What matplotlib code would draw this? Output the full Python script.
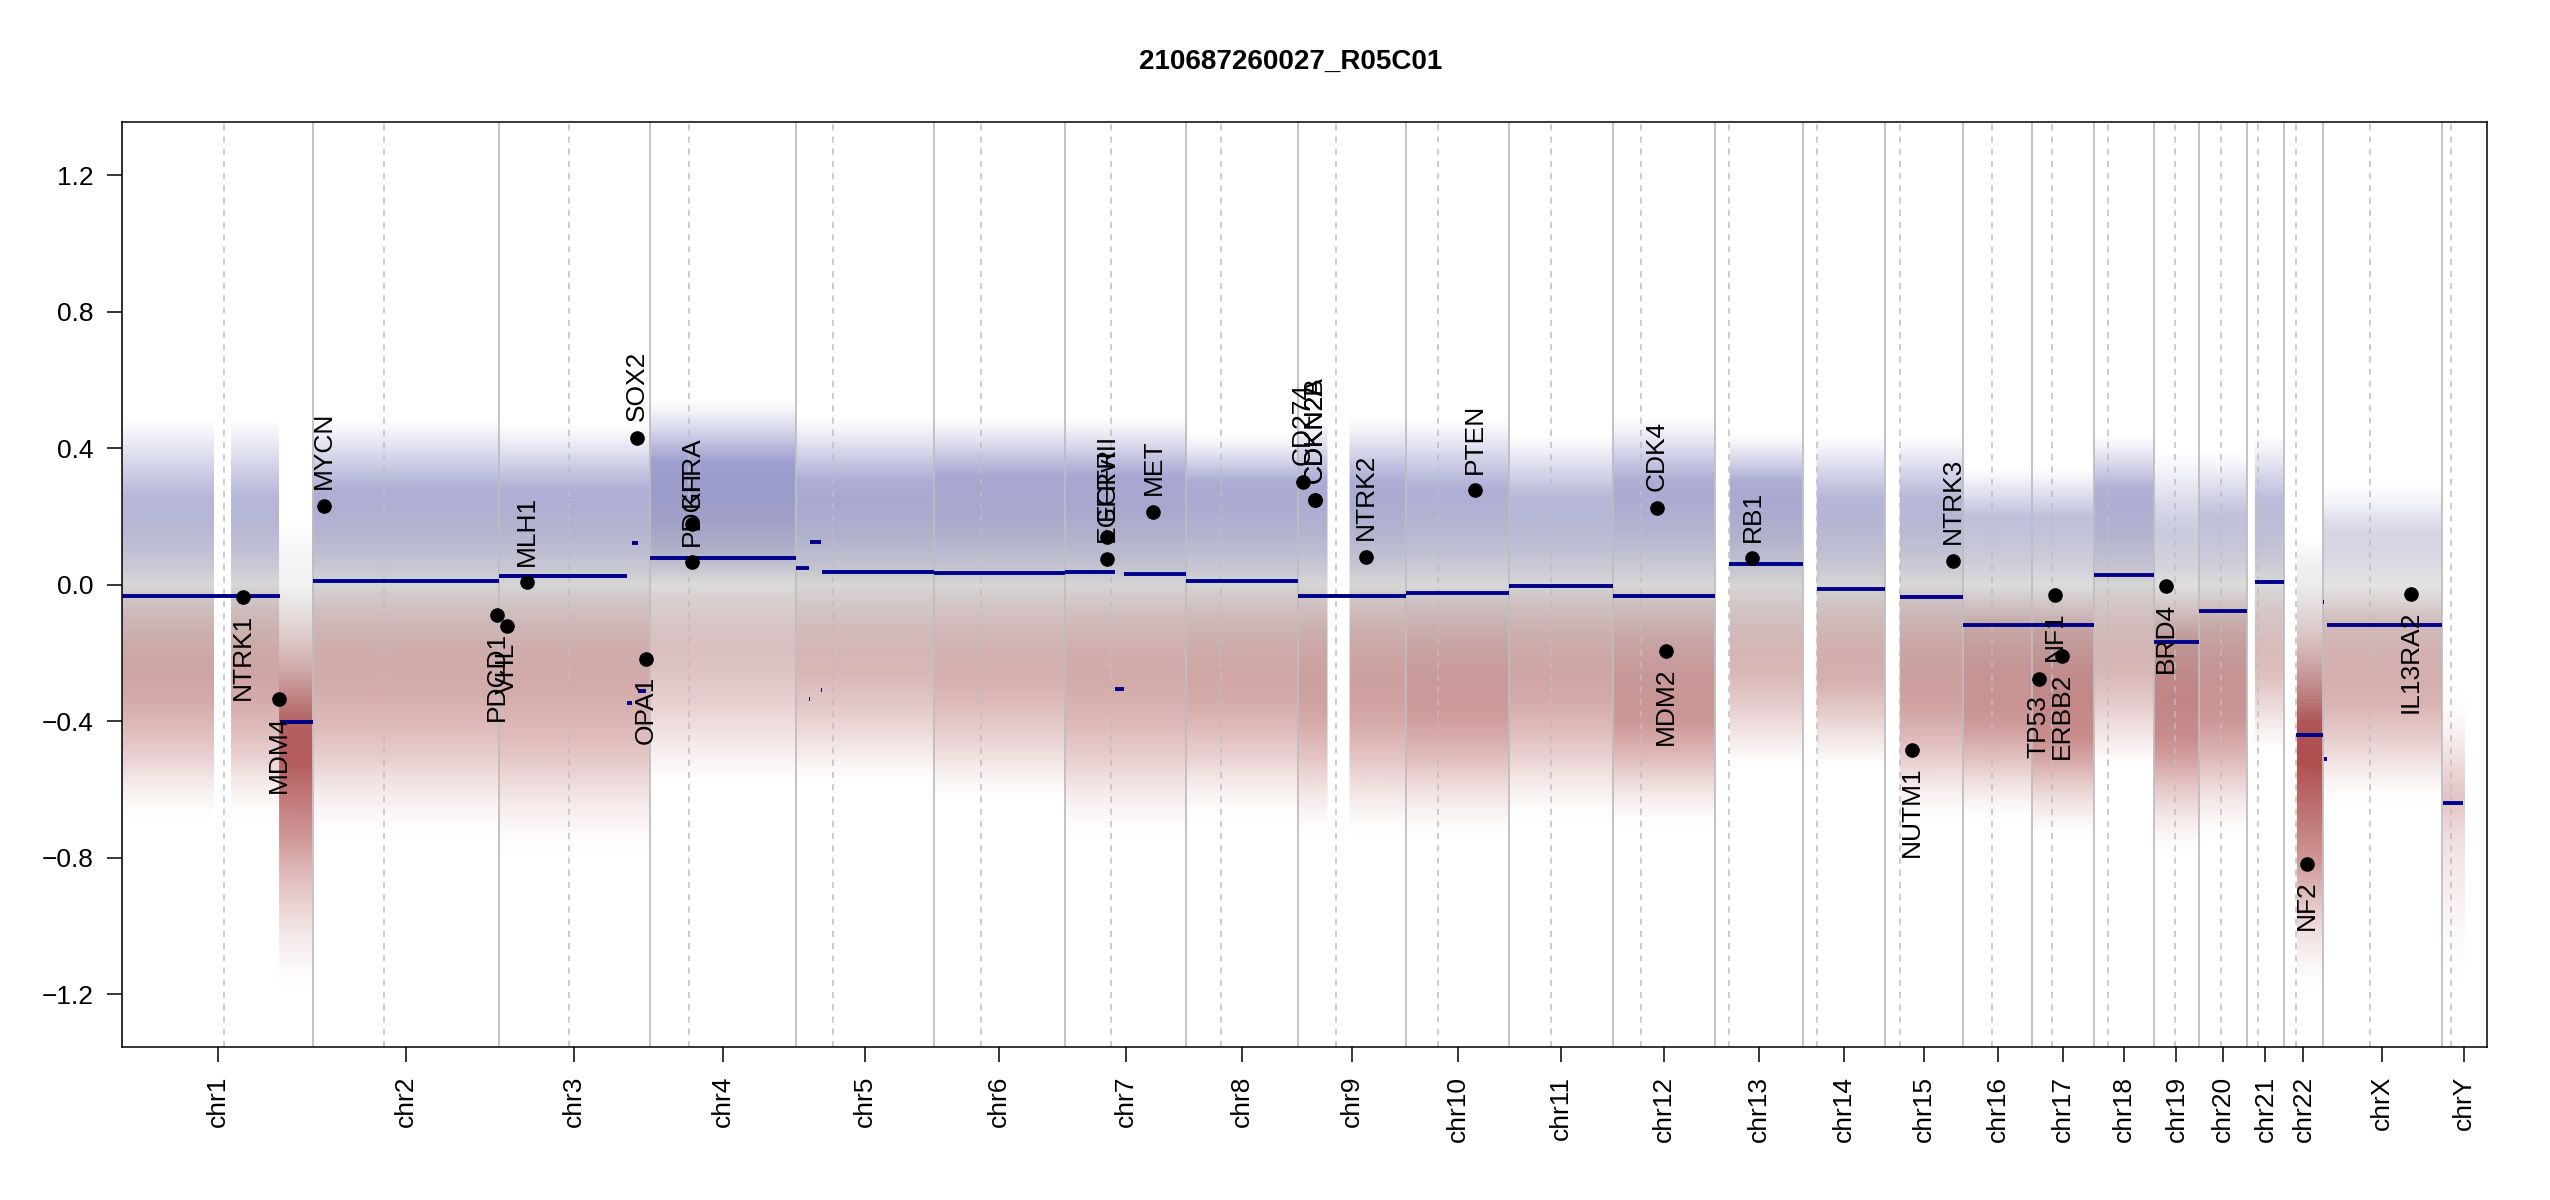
import numpy as np
import matplotlib
matplotlib.use("Agg")
import matplotlib.pyplot as plt
from matplotlib.colors import LinearSegmentedColormap, Normalize

plt.rcParams['font.family'] = ['Liberation Sans', 'DejaVu Sans']

# chromosomes (hg19, Mb) and centromere marks
chrom_names = ['chr1', 'chr2', 'chr3', 'chr4', 'chr5', 'chr6', 'chr7', 'chr8', 'chr9', 'chr10',
               'chr11', 'chr12', 'chr13', 'chr14', 'chr15', 'chr16', 'chr17', 'chr18', 'chr19',
               'chr20', 'chr21', 'chr22', 'chrX', 'chrY']
chrom_len = [249.25, 243.20, 198.02, 191.15, 180.92, 171.12, 159.14, 146.36, 141.21, 135.53,
             135.01, 133.85, 115.17, 107.35, 102.53, 90.35, 81.20, 78.08, 59.13,
             63.03, 48.13, 51.30, 155.27, 59.37]
centromere = [133.5, 93.0, 92.5, 51.3, 48.6, 61.5, 60.5, 46.0, 49.8, 41.5,
              54.2, 37.7, 18.9, 18.9, 19.7, 38.0, 26.0, 17.8, 27.2,
              29.3, 13.7, 15.9, 61.2, 12.2]

# segments
seg_chrom = ['chr1', 'chr1', 'chr2', 'chr3', 'chr3', 'chr3', 'chr3', 'chr4',
             'chr5', 'chr5', 'chr5', 'chr5', 'chr5', 'chr6', 'chr7', 'chr7', 'chr7',
             'chr8', 'chr9', 'chr10', 'chr11', 'chr12', 'chr13', 'chr14', 'chr15',
             'chr16', 'chr17', 'chr18', 'chr19', 'chr20', 'chr21', 'chr22',
             'chrX', 'chrX', 'chrX', 'chrY']
seg_start = [0, 206.0, 0, 0, 168.5, 175.0, 182.5, 0,
             0, 17.2, 18.2, 32.9, 33.9, 0, 0, 65.5, 77.0,
             0, 0, 0, 0, 0, 19.0, 19.0, 20.0,
             0, 0, 0, 0, 0, 10.0, 16.5,
             0, 1.5, 5.0, 2.0]
seg_end = [206.0, 249.25, 243.20, 168.5, 175.0, 182.5, 192.5, 191.15,
           17.2, 18.2, 32.9, 33.9, 180.92, 171.12, 65.5, 77.0, 159.14,
           146.36, 141.21, 135.53, 135.01, 133.85, 115.17, 107.35, 102.53,
           90.35, 81.20, 78.08, 59.13, 63.03, 48.13, 51.30,
           1.5, 5.0, 155.27, 28.5]
seg_mean = [-0.032, -0.403, 0.010, 0.026, -0.348, 0.122, -0.312, 0.078,
            0.049, -0.335, 0.125, -0.309, 0.037, 0.034, 0.037, -0.305, 0.032,
            0.011, -0.032, -0.025, -0.004, -0.032, 0.061, -0.012, -0.036,
            -0.117, -0.117, 0.029, -0.167, -0.076, 0.008, -0.441,
            -0.050, -0.511, -0.117, -0.639]

# detail genes
gene_names = ['NTRK1', 'MDM4', 'MYCN', 'PDCD1', 'VHL', 'MLH1', 'SOX2', 'OPA1', 'PDGFRA', 'KIT',
              'EGFR', 'EGFRvIII', 'MET', 'CD274', 'CDKN2A', 'CDKN2B', 'NTRK2', 'PTEN', 'CDK4',
              'MDM2', 'RB1', 'NUTM1', 'NTRK3', 'TP53', 'NF1', 'ERBB2', 'BRD4', 'NF2', 'IL13RA2']
gene_chrom = ['chr1', 'chr1', 'chr2', 'chr2', 'chr3', 'chr3', 'chr3', 'chr3', 'chr4', 'chr4',
              'chr7', 'chr7', 'chr7', 'chr9', 'chr9', 'chr9', 'chr9', 'chr10', 'chr12',
              'chr12', 'chr13', 'chr15', 'chr15', 'chr17', 'chr17', 'chr17', 'chr19', 'chr22', 'chrX']
gene_pos = [157.5, 204.5, 15.0, 241.5, 10.5, 37.0, 181.5, 193.3, 55.1, 55.5,
            55.6, 55.6, 116.2, 6.0, 21.97, 22.0, 88.5, 90.5, 58.2,
            69.3, 49.3, 35.0, 89.0, 8.5, 30.3, 38.6, 16.0, 30.5, 114.5]
gene_value = [-0.035, -0.334, 0.231, -0.089, -0.121, 0.007, 0.430, -0.217, 0.066, 0.178,
              0.141, 0.075, 0.213, 0.302, 0.248, 0.248, 0.081, 0.277, 0.226,
              -0.194, 0.077, -0.485, 0.070, -0.275, -0.029, -0.208, -0.003, -0.818, -0.028]

# bin cloud, read per region: dense band and outer reach of the bins
cloud_chrom = ['chr1', 'chr1', 'chr1', 'chr2', 'chr3', 'chr4', 'chr5', 'chr6', 'chr7', 'chr8',
               'chr9', 'chr9', 'chr10', 'chr11', 'chr12', 'chr13', 'chr14', 'chr15', 'chr16',
               'chr17', 'chr18', 'chr19', 'chr20', 'chr21', 'chr22', 'chrX', 'chrY']
cloud_start = [0, 143.0, 206.0, 0, 0, 0, 0, 0, 0, 0,
               0, 68.0, 0, 0, 0, 19.0, 19.0, 20.0, 0,
               0, 0, 0, 0, 10.0, 16.5, 0, 2.0]
cloud_end = [121.0, 206.0, 249.25, 243.20, 198.02, 191.15, 180.92, 171.12, 159.14, 146.36,
             39.0, 141.21, 135.53, 135.01, 133.85, 115.17, 107.35, 102.53, 90.35,
             81.20, 78.08, 59.13, 63.03, 48.13, 51.30, 155.27, 30.0]
cloud_hi = [0.25, 0.25, -0.05, 0.28, 0.28, 0.36, 0.30, 0.32, 0.32, 0.30,
            0.30, 0.30, 0.28, 0.25, 0.30, 0.30, 0.25, 0.25, 0.20,
            0.20, 0.28, 0.15, 0.20, 0.25, 0.00, 0.15, -0.50]
cloud_lo = [-0.32, -0.32, -0.75, -0.30, -0.30, -0.20, -0.25, -0.28, -0.30, -0.32,
            -0.35, -0.35, -0.38, -0.32, -0.40, -0.25, -0.28, -0.35, -0.40,
            -0.45, -0.25, -0.45, -0.40, -0.25, -0.80, -0.35, -0.75]
cloud_top = [0.50, 0.50, 0.20, 0.50, 0.48, 0.55, 0.50, 0.50, 0.50, 0.45,
             0.50, 0.50, 0.50, 0.45, 0.50, 0.45, 0.45, 0.45, 0.35,
             0.35, 0.45, 0.40, 0.40, 0.45, 0.15, 0.30, -0.30]
cloud_bottom = [-0.70, -0.70, -1.20, -0.75, -0.80, -0.60, -0.60, -0.65, -0.75, -0.70,
                -0.75, -0.75, -0.75, -0.70, -0.72, -0.55, -0.55, -0.70, -0.70,
                -0.75, -0.55, -0.80, -0.75, -0.50, -1.20, -0.65, -1.20]
cloud_density = [1.0, 1.0, 0.8, 1.0, 1.0, 1.0, 1.0, 1.0, 1.0, 1.0,
                 1.0, 1.0, 1.0, 1.0, 1.0, 1.0, 1.0, 1.0, 1.0,
                 1.0, 1.0, 1.0, 1.0, 0.9, 0.85, 0.8, 0.25]

offset = dict(zip(chrom_names, np.concatenate([[0], np.cumsum(chrom_len)[:-1]])))
total = sum(chrom_len)
ylim = (-1.355, 1.355)

fig = plt.figure(figsize=(25.5, 12), dpi=100)
ax = fig.add_subplot(111)
fig.subplots_adjust(left=0.048, right=0.9753, bottom=0.1275, top=0.898)

# cloud as an image, coloured by value, faded by how dense the bins are
cmap = LinearSegmentedColormap.from_list('cnv', ['darkred', 'lightgrey', 'darkblue'])
norm = Normalize(-0.52, 0.52, clip=True)
W, H = 2364, 926
xc = (np.arange(W) + 0.5) / W * total
yc = ylim[0] + (np.arange(H) + 0.5) / H * (ylim[1] - ylim[0])
rgba = np.tile(cmap(norm(yc))[:, None, :], (1, W, 1))
alpha = np.zeros((H, W))
for ch, s, e, hi, lo, top, bot, d in zip(cloud_chrom, cloud_start, cloud_end, cloud_hi,
                                         cloud_lo, cloud_top, cloud_bottom, cloud_density):
    mid = (hi + lo) / 2
    half = (hi - lo) / 2
    prof = np.zeros(H)
    core = (yc >= lo) & (yc <= hi)
    prof[core] = 0.95 - 0.45 * np.abs(yc[core] - mid) / half
    up = (yc > hi) & (yc < top)
    prof[up] = 0.5 * (1 - (yc[up] - hi) / (top - hi)) ** 1.5
    dn = (yc < lo) & (yc > bot)
    prof[dn] = 0.5 * (1 - (lo - yc[dn]) / (lo - bot)) ** 1.5
    cols = (xc >= offset[ch] + s) & (xc < offset[ch] + e)
    alpha[:, cols] = (prof * d)[:, None]
rgba[..., 3] = alpha
ax.imshow(rgba, extent=[0, total, ylim[0], ylim[1]], origin='lower', aspect='auto',
          interpolation='bilinear', zorder=1)

# chromosome borders and centromeres
for ch, cen in zip(chrom_names, centromere):
    ax.axvline(offset[ch], color='#bebebe', lw=1.3, zorder=2)
    ax.axvline(offset[ch] + cen, color='#bebebe', lw=1.1, ls=(0, (4, 4)), zorder=2)

# segments
for ch, s, e, m in zip(seg_chrom, seg_start, seg_end, seg_mean):
    ax.plot([offset[ch] + s, offset[ch] + e], [m, m], color='darkblue', lw=2.8,
            solid_capstyle='butt', zorder=3)

# genes
for name, ch, p, v in zip(gene_names, gene_chrom, gene_pos, gene_value):
    x = offset[ch] + p
    ax.plot(x, v, 'o', color='black', ms=9.5, zorder=4)
    ax.annotate(name, (x, v), xytext=(0, 12 if v > 0 else -12), textcoords='offset points',
                rotation=90, ha='center', va='bottom' if v > 0 else 'top', fontsize=19, zorder=5)

ax.set_xlim(0, total)
ax.set_ylim(*ylim)
ax.set_xticks([offset[c] + l / 2 for c, l in zip(chrom_names, chrom_len)])
ax.set_xticklabels(chrom_names, rotation=90, fontsize=19)
yt = [-1.2, -0.8, -0.4, 0.0, 0.4, 0.8, 1.2]
ax.set_yticks(yt)
ax.set_yticklabels([f'{t:.1f}'.replace('-', '\u2212') for t in yt], fontsize=19)
ax.tick_params(axis='both', length=10.8, width=1.1, pad=10, color='black')
for sp in ax.spines.values():
    sp.set_linewidth(1.1)

fig.text(0.5063, 1 - 62 / 1200, '210687260027_R05C01', ha='center', va='center',
         fontsize=20, fontweight='bold')

fig.savefig('out.png', dpi=100)
